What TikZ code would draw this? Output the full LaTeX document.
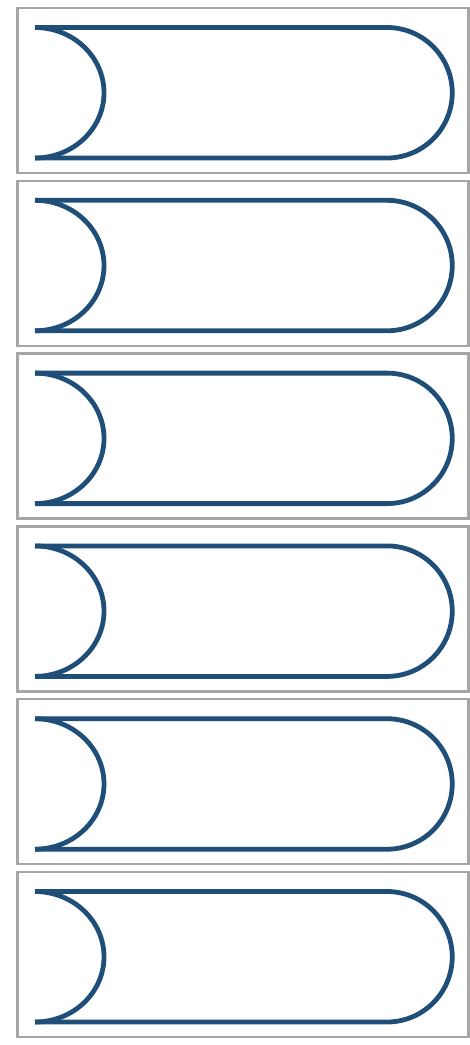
\documentclass[tikz,border=0pt]{standalone}
\usetikzlibrary{calc}
\definecolor{bandblue}{RGB}{31,78,121}
\definecolor{framegray}{RGB}{166,166,166}

\begin{document}
\begin{tikzpicture}[x=1pt, y=-1pt,
    frame/.style={draw=framegray, line width=2.3pt},
    band/.style={draw=bandblue, line width=4.8pt}
]
    \useasboundingbox (0,0) rectangle (470,1045);
    \foreach \k in {0,...,5} {
        \pgfmathsetmacro{\ytop}{8+172.8*\k}
        \draw[frame] (17.5,\ytop) rectangle (468.5,\ytop+165);
        \draw[band] (35,\ytop+19.5) -- (387,\ytop+19.5) arc[start angle=-90, end angle=90, radius=65.25] -- (35,\ytop+150);
        \draw[band] (35,\ytop+150) arc[start angle=90, end angle=-90, x radius=69, y radius=65.25];
    }
\end{tikzpicture}
\end{document}
